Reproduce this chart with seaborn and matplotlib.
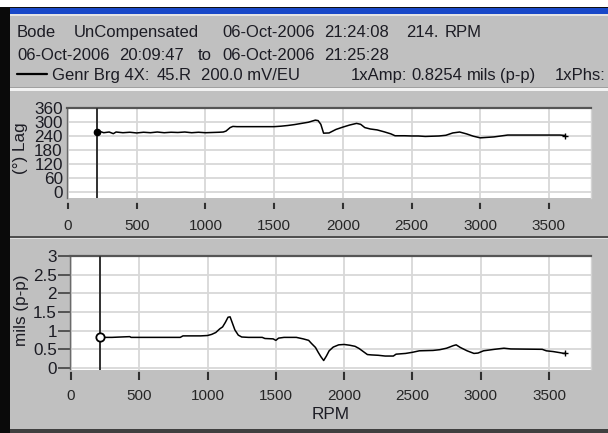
import matplotlib
matplotlib.use("Agg")
import matplotlib.pyplot as plt
from matplotlib.patches import Rectangle
from matplotlib.lines import Line2D
import seaborn as sns
import pandas as pd

# ---------------- data ----------------
phase_rpm = [214, 230, 260, 300, 330, 350, 400, 450, 500, 550, 600, 650, 700, 750, 800,
             850, 900, 950, 1000, 1050, 1100, 1130, 1150, 1180, 1200, 1230, 1300, 1400,
             1500, 1550, 1600, 1650, 1700, 1750, 1800, 1820, 1840, 1860, 1900, 1950,
             2000, 2050, 2100, 2130, 2160, 2200, 2250, 2300, 2350, 2380, 2450, 2500,
             2550, 2600, 2700, 2750, 2800, 2850, 2900, 2950, 3000, 3050, 3100, 3200,
             3300, 3400, 3500, 3580, 3620]
phase_deg = [256, 260, 254, 257, 250, 257, 254, 256, 253, 256, 254, 257, 254, 256, 255,
             257, 254, 256, 254, 255, 256, 257, 261, 276, 281, 280, 280, 280,
             280, 282, 285, 289, 294, 299, 308, 306, 290, 252, 253, 268,
             278, 287, 294, 290, 276, 270, 266, 258, 249, 241, 241, 240,
             240, 238, 240, 243, 253, 257, 249, 239, 232, 234, 236, 244,
             244, 244, 244, 244, 242]

amp_rpm = [214, 300, 430, 440, 600, 800, 820, 950, 1000, 1030, 1060, 1090, 1110, 1130,
           1150, 1165, 1180, 1200, 1225, 1250, 1300, 1400, 1420, 1480, 1500, 1520,
           1560, 1650, 1700, 1740, 1760, 1790, 1810, 1830, 1850, 1870, 1890, 1920,
           1960, 2000, 2040, 2080, 2110, 2140, 2170, 2200, 2250, 2300, 2360, 2380,
           2450, 2500, 2550, 2650, 2700, 2750, 2800, 2820, 2850, 2900, 2950, 2980,
           3020, 3100, 3170, 3220, 3450, 3480, 3530, 3580, 3610, 3620]
amp_mils = [0.82, 0.82, 0.84, 0.82, 0.82, 0.82, 0.86, 0.86, 0.87, 0.90, 0.95, 1.05, 1.10, 1.22,
            1.36, 1.37, 1.22, 1.02, 0.88, 0.83, 0.82, 0.82, 0.79, 0.78, 0.74, 0.80,
            0.82, 0.82, 0.78, 0.74, 0.66, 0.55, 0.42, 0.30, 0.20, 0.32, 0.46, 0.56,
            0.62, 0.63, 0.61, 0.58, 0.52, 0.44, 0.36, 0.35, 0.34, 0.32, 0.32, 0.37,
            0.39, 0.42, 0.46, 0.47, 0.49, 0.53, 0.60, 0.62, 0.55, 0.46, 0.39, 0.40,
            0.46, 0.50, 0.53, 0.51, 0.50, 0.46, 0.44, 0.41, 0.39, 0.40]

cursor_rpm = 214
x_ticks = [0, 500, 1000, 1500, 2000, 2500, 3000, 3500]
phase_ticks = [0, 60, 120, 180, 240, 300, 360]
amp_ticks = [0, 0.5, 1, 1.5, 2, 2.5, 3]
amp_tick_labels = ["0", "0.5", "1", "1.5", "2", "2.5", "3"]

header_row1 = [("Bode", 17), ("UnCompensated", 74), ("06-Oct-2006", 222),
               ("21:24:08", 324), ("214.", 406), ("RPM", 445)]
header_row2 = [("06-Oct-2006", 17), ("20:09:47", 119), ("to", 198),
               ("06-Oct-2006", 222), ("21:25:28", 324)]
header_row3 = [("Genr Brg 4X:", 52), ("45.R", 157), ("200.0 mV/EU", 201),
               ("1xAmp:", 351), ("0.8254", 411), ("mils", 467), ("(p-p)", 500),
               ("1xPhs:", 555)]

# ---------------- figure ----------------
sns.set_theme(style="white")
plt.rcParams["font.family"] = ["Liberation Sans", "DejaVu Sans"]
W, H = 608, 433
BG = "#c0c0c0"
FS = 12.0
TXT = "#1c1c24"

fig = plt.figure(figsize=(W / 100, H / 100), dpi=100, facecolor=BG)


def rect(x0, y0, x1, y1, color, z=0):
    fig.add_artist(Rectangle((x0 / W, 1 - y1 / H), (x1 - x0) / W, (y1 - y0) / H,
                             transform=fig.transFigure, facecolor=color,
                             edgecolor="none", zorder=z))


def axes_px(x0, y0, x1, y1):
    return fig.add_axes([x0 / W, 1 - y1 / H, (x1 - x0) / W, (y1 - y0) / H])


# window chrome
rect(0, 0, W, 7, "white")
rect(0, 7, W, 8.5, "#101010")
rect(0, 8.5, W, 14.5, "#1848c8")
rect(0, 14.5, W, 16, "#e4e4e4")
rect(0, 7, 10, H, "#0a0a0a")
rect(10, 87, W, 88, "#a0a0a0")
rect(10, 88, W, 90.5, "#f2f2f2")
rect(10, 236, W, 238, "#505050")
rect(10, 238, W, 239, "#e0e0e0")
rect(10, 429, W, H, "#404040")

# header texts
for row, yb in ((header_row1, 37), (header_row2, 59.5), (header_row3, 80)):
    for s, x in row:
        fig.text(x / W, 1 - yb / H, s, fontsize=FS, color=TXT, ha="left",
                 va="baseline")
fig.add_artist(Line2D([17 / W, 47 / W], [1 - 73.5 / H, 1 - 73.5 / H],
                      transform=fig.transFigure, color="black", lw=1.6))

phase_df = pd.DataFrame({"RPM": phase_rpm, "Phase": phase_deg})
amp_df = pd.DataFrame({"RPM": amp_rpm, "Amp": amp_mils})


def style_axes(ax):
    ax.set_facecolor("white")
    ax.grid(True, color="#d8d8d8", lw=1.3)
    ax.set_axisbelow(True)
    ax.spines["top"].set_color("#555555")
    ax.spines["top"].set_linewidth(1.6)
    ax.spines["left"].set_color("#6a6a6a")
    ax.spines["left"].set_linewidth(1.0)
    ax.spines["right"].set_color("#d4d4d4")
    ax.spines["right"].set_linewidth(1.0)
    ax.spines["bottom"].set_color(BG)
    ax.set_xticks(x_ticks)
    ax.set_xticklabels([str(t) for t in x_ticks])
    for lab in ax.get_xticklabels() + ax.get_yticklabels():
        lab.set_color(TXT)
        lab.set_fontsize(FS + 0.3)


# ---------------- top: phase ----------------
ax1 = axes_px(67, 108, 591, 198)
sns.lineplot(data=phase_df, x="RPM", y="Phase", ax=ax1, color="black", lw=1.1,
             estimator=None, sort=False)
ax1.axvline(cursor_rpm, color="#303030", lw=1.4, zorder=3)
ax1.plot(phase_rpm[0], phase_deg[0], marker="o", ms=4.5, color="black", zorder=4)
ax1.plot(phase_rpm[-1], phase_deg[-1], marker="+", ms=5, mew=1.0, color="black", zorder=4)
ax1.set_xlim(-7, 3806)
ax1.set_ylim(-26, 360)
ax1.set_yticks(phase_ticks)
ax1.set_yticklabels([str(t) for t in phase_ticks])
style_axes(ax1)
ax1.spines["bottom"].set_position(("outward", 3))
ax1.tick_params(axis="x", which="both", bottom=True, length=5.2, width=1.5,
                color="#303030", pad=7, direction="out")
ax1.tick_params(axis="y", which="both", left=False, length=0, pad=3)
ax1.set_xlabel("")
ax1.set_ylabel("(°) Lag", fontsize=FS + 0.3, color=TXT)
ax1.yaxis.set_label_coords(-0.074, 0.55)

# ---------------- bottom: amplitude ----------------
ax2 = axes_px(70, 256, 591, 370)
sns.lineplot(data=amp_df, x="RPM", y="Amp", ax=ax2, color="black", lw=1.1,
             estimator=None, sort=False)
ax2.axvline(cursor_rpm, color="#303030", lw=1.4, zorder=3)
ax2.plot(amp_rpm[0], amp_mils[0], marker="o", ms=6, mfc="white", mec="black",
         mew=1.3, zorder=4)
ax2.plot(amp_rpm[-1], amp_mils[-1], marker="+", ms=5, mew=1.0, color="black", zorder=4)
ax2.set_xlim(-7, 3807)
ax2.set_ylim(-0.054, 3)
ax2.set_yticks(amp_ticks)
ax2.set_yticklabels(amp_tick_labels)
style_axes(ax2)
ax2.spines["bottom"].set_position(("outward", 1))
ax2.tick_params(axis="x", which="both", bottom=True, length=6.5, width=1.5,
                color="#303030", pad=6.5, direction="out")
ax2.tick_params(axis="y", which="both", left=True, length=8.5, width=1.2,
                color="#404040", pad=1, direction="out")
ax2.set_xlabel("RPM", fontsize=FS + 0.3, color=TXT, labelpad=2.5)
ax2.set_ylabel("mils (p-p)", fontsize=FS + 0.3, color=TXT)
ax2.yaxis.set_label_coords(-0.079, 0.52)

fig.savefig("out.png", dpi=100, facecolor=BG)
